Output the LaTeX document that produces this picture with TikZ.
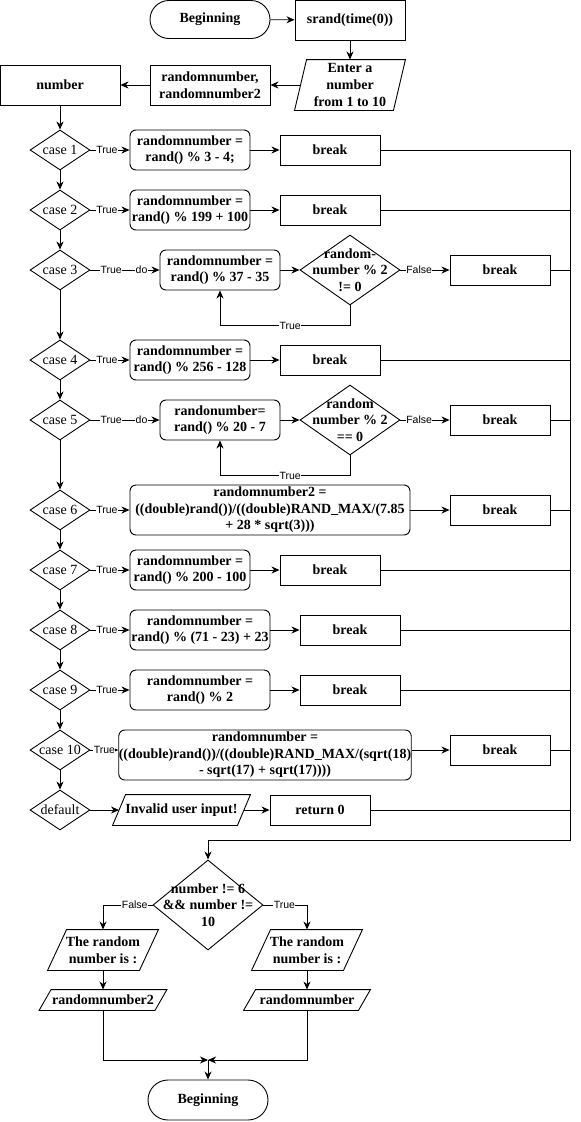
\documentclass[tikz,border=0pt]{standalone}
\usepackage{fontspec}
\setmainfont{Liberation Serif}
\newfontfamily\labfont{Liberation Sans}
\usetikzlibrary{arrows.meta,shapes.geometric,calc}

\newcommand{\parallelo}[2]{\draw ([xshift=#2]#1.north west) -- (#1.north east) -- ([xshift=-#2]#1.south east) -- (#1.south west) -- cycle;}

\tikzset{
  txt/.style={font=\fontsize{14}{16.6}\selectfont\bfseries},
  reg/.style={font=\fontsize{14}{16.6}\selectfont},
  base/.style={draw, inner sep=0pt, align=center, txt},
  term/.style={base, rounded corners=19pt, minimum width=120pt, minimum height=38pt},
  rect/.style={base, minimum width=120pt, minimum height=40pt},
  proc/.style={base, rounded corners=6pt, minimum width=120pt, minimum height=40pt},
  brk/.style={base, minimum width=100pt, minimum height=30pt},
  para/.style={base, draw=none},
  dia/.style={draw, diamond, inner sep=0pt, minimum width=60pt, minimum height=40pt},
  dtext/.style={reg, inner sep=0pt},
  dtextb/.style={txt, align=center, inner sep=0pt},
  lab/.style={font=\labfont\fontsize{10.5}{12}\selectfont, fill=white, inner sep=0.5pt},
  arr/.style={-{Stealth[length=8pt,width=7pt,inset=2.5pt]}}
}

\begin{document}
\begin{tikzpicture}[x=1pt,y=-1pt,line width=0.9pt]
\useasboundingbox (0,0) rectangle (581,1122);

% top
\node[term] (beg) at (210,19.5) {Beginning};
\node[rect, minimum width=110pt] (srand) at (350,20) {srand(time(0))};
\node[para, minimum width=110pt, minimum height=50pt] (enter) at (350,85) {Enter a\\number\\from 1 to 10};
\node[rect] (rn) at (210,85) {randomnumber,\\randomnumber2};
\node[rect] (num) at (60,85) {number};

% case diamonds
\foreach \i/\y in {1/150,2/210,3/270,4/360,5/420,6/510,7/570,8/630,9/690,10/750}
  \node[dia, label={[dtext]center:case \i}] (c\i) at (60,\y) {};
\node[dia, label={[dtext]center:default}] (def) at (60,810) {};

% row nodes
\node[proc] (p1) at (190,150) {randomnumber =\\rand() \% 3 - 4;};
\node[brk] (b1) at (330,150) {break};
\node[proc] (p2) at (190,210) {randomnumber =\\rand() \% 199 + 100};
\node[brk] (b2) at (330,210) {break};
\node[proc] (p3) at (220,270) {randomnumber =\\rand() \% 37 - 35};
\node[dia, minimum width=100pt, minimum height=70pt, label={[dtextb]center:{random-\\number \% 2\\!= 0}}] (d3) at (350,270) {};
\node[brk] (b3) at (500,270) {break};
\node[proc] (p4) at (190,360) {randomnumber =\\rand() \% 256 - 128};
\node[brk] (b4) at (330,360) {break};
\node[proc] (p5) at (220,420) {randonumber=\\rand() \% 20 - 7};
\node[dia, minimum width=100pt, minimum height=70pt, label={[dtextb]center:{random\\number \% 2\\== 0}}] (d5) at (350,420) {};
\node[brk] (b5) at (500,420) {break};
\node[proc, minimum width=280pt, minimum height=50pt] (p6) at (270,510) {randomnumber2 =\\((double)rand())/((double)RAND\_MAX/(7.85\\+ 28 * sqrt(3)))};
\node[brk] (b6) at (500,510) {break};
\node[proc] (p7) at (190,570) {randomnumber =\\rand() \% 200 - 100};
\node[brk] (b7) at (330,570) {break};
\node[proc, minimum width=140pt] (p8) at (200,630) {randomnumber =\\rand() \% (71 - 23) + 23};
\node[brk] (b8) at (350,630) {break};
\node[proc, minimum width=140pt] (p9) at (200,690) {randomnumber =\\rand() \% 2};
\node[brk] (b9) at (350,690) {break};
\node[proc, minimum width=290pt, minimum height=50pt] (p10) at (265,755) {randomnumber =\\((double)rand())/((double)RAND\_MAX/(sqrt(18)\\- sqrt(17) + sqrt(17))))};
\node[brk] (b10) at (500,750) {break};
\node[para, minimum width=137pt, minimum height=30pt] (inv) at (181.5,810) {Invalid user input!};
\node[brk] (ret) at (320,810) {return 0};

% bottom
\node[dia, minimum width=110pt, minimum height=90pt, label={[dtextb]center:{number != 6\\\&\& number !=\\10}}] (dec) at (208,905) {};
\node[para, minimum width=110pt, minimum height=40pt] (pL1) at (103,950) {The random\\number is :};
\node[para, minimum width=110pt, minimum height=40pt] (pR1) at (307,950) {The random\\number is :};
\node[para, minimum width=127pt, minimum height=20pt] (pL2) at (103,1000) {randomnumber2};
\node[para, minimum width=126pt, minimum height=20pt] (pR2) at (307,1000) {randomnumber};
\coordinate (m) at (208,1060);
\node[term, minimum height=40pt, rounded corners=20pt] (fin) at (208,1100) {Beginning};

% parallelogram outlines
\parallelo{enter}{12pt}
\parallelo{inv}{13pt}
\parallelo{pL1}{19pt}
\parallelo{pR1}{19pt}
\parallelo{pL2}{12pt}
\parallelo{pR2}{12pt}

% top connectors
\draw[arr] (beg) -- (srand);
\draw[arr] (srand) -- (enter);
\draw[arr] ([xshift=6pt]enter.west) -- (rn);
\draw[arr] (rn) -- (num);
\draw[arr] (num) -- (c1);

% case chain
\foreach \a/\b in {c1/c2,c2/c3,c3/c4,c4/c5,c5/c6,c6/c7,c7/c8,c8/c9,c9/c10,c10/def}
  \draw[arr] (\a) -- (\b);

% simple rows
\foreach \i in {1,2,4,6,7,8,9}{
  \draw[arr] (c\i) -- node[lab,pos=0.42]{True} (p\i);
  \draw[arr] (p\i) -- (b\i);
}
% loop rows
\foreach \i in {3,5}{
  \draw[arr] (c\i) -- node[lab,pos=0.3]{True} node[lab,pos=0.74]{do} (p\i);
  \draw[arr] (p\i) -- (d\i);
  \draw[arr] (d\i) -- node[lab,pos=0.38]{False} (b\i);
  \draw[arr] (d\i.south) -- ++(0,20) -| node[lab,pos=0.23]{True} (p\i.south);
}
% case 10
\draw[arr] (c10) -- node[lab,pos=0.5]{True} (c10 -| p10.west);
\draw[arr] (p10.east |- b10) -- (b10);
% default
\draw[arr] (def) -- ([xshift=6.5pt]inv.west);
\draw[arr] ([xshift=-6.5pt]inv.east) -- (ret);

% bus
\coordinate (busT) at (570,150);
\coordinate (busB) at (570,840);
\draw (b1) -- (busT);
\foreach \n in {b2,b3,b4,b5,b6,b7,b8,b9,b10,ret}
  \draw (\n) -- (\n -| busT);
\draw[arr] (busT) -- (busB) -| (dec);

% bottom connectors
\draw[arr] (dec.west) -| node[lab,pos=0.18]{False} (pL1.north);
\draw[arr] (dec.east) -| node[lab,pos=0.24]{True} (pR1.north);
\draw[arr] (pL1) -- (pL2);
\draw[arr] (pR1) -- (pR2);
\draw[arr] (pL2.south) |- (m);
\draw[arr] (pR2.south) |- (m);
\draw[arr] (m) -- (fin);
\end{tikzpicture}
\end{document}
